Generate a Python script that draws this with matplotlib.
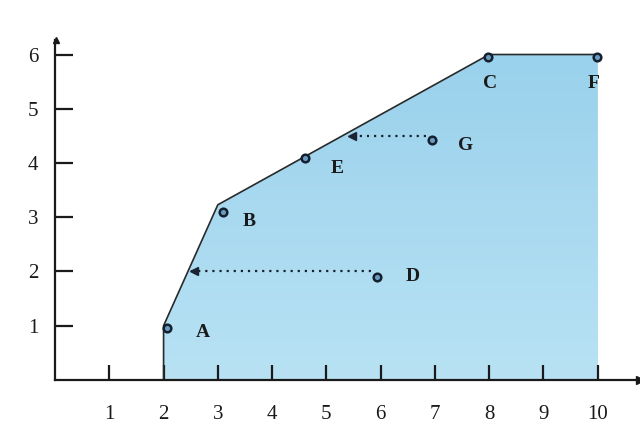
import matplotlib.pyplot as plt
import numpy as np

# boundary of the shaded region
edge_x = [2, 2, 3, 8, 10, 10]
edge_y = [0, 1, 3.23, 6, 6, 0]

# labelled points
names = ["A", "B", "C", "D", "E", "F", "G"]
pt_x = [2.07, 3.1, 7.97, 5.93, 4.6, 9.98, 6.95]
pt_y = [0.95, 3.1, 5.95, 1.9, 4.1, 5.95, 4.42]
lab_x = [2.72, 3.57, 8.02, 6.6, 5.2, 9.92, 7.57]
lab_y = [0.88, 2.92, 5.47, 1.9, 3.9, 5.47, 4.33]

# dotted moves: start -> arrow tip
moves_from = [(5.82, 2.0), (6.83, 4.5)]
moves_to = [(2.5, 2.0), (5.4, 4.5)]

plt.rcParams['font.family'] = ['Liberation Serif', 'DejaVu Serif']

fig = plt.figure(figsize=(6.4, 4.3), dpi=100)
ax = fig.add_axes([0.086, 0.1163, 0.914, 0.791])
ax.set_xlim(0, 10.78)
ax.set_ylim(0, 6.27)

# gradient fill clipped to the polygon
poly = ax.fill(edge_x, edge_y, facecolor="#a3d5ee", edgecolor="none", zorder=1)[0]
grad = np.linspace(0, 1, 100).reshape(-1, 1)
im = ax.imshow(grad, extent=[2, 10, 0, 6], origin="lower", aspect="auto",
               cmap=plt.matplotlib.colors.LinearSegmentedColormap.from_list(
                   "b", ["#b8e2f4", "#9ad1ec"]), zorder=1)
im.set_clip_path(poly)
ax.plot(edge_x[:5], edge_y[:5], color="#2a2a2a", lw=1.2, zorder=2)

for (x0, y0), (x1, y1) in zip(moves_from, moves_to):
    ax.plot([x0, x1], [y0, y1], color="#1a2233", lw=1.6, ls=(0, (1, 2.2)), zorder=3)
    ax.plot([x1 + 0.07], [y1], marker="<", ms=6, color="#1a2233", zorder=3)

ax.scatter(pt_x, pt_y, s=30, facecolor="#6a9cc0", edgecolor="#14202e",
           linewidth=1.8, zorder=4)
for n, x, y in zip(names, lab_x, lab_y):
    ax.text(x, y, n, fontsize=14, fontweight="bold", ha="center", va="center",
            color="#1a1a1a", zorder=5)

for s in ["top", "right"]:
    ax.spines[s].set_visible(False)
for s in ["left", "bottom"]:
    ax.spines[s].set_linewidth(1.6)
    ax.spines[s].set_color("#1a1a1a")

ax.plot([1], [0], marker=">", ms=6, color="#1a1a1a", transform=ax.transAxes, clip_on=False)
ax.plot([0.002], [1], marker="^", ms=5, color="#1a1a1a", transform=ax.transAxes, clip_on=False)

ax.set_xticks(range(1, 11))
ax.set_yticks(range(1, 7))
ax.tick_params(axis="x", direction="in", length=11, width=1.6, pad=18,
               labelsize=15, colors="#1a1a1a")
ax.tick_params(axis="y", direction="in", length=13, width=1.6, pad=12,
               labelsize=15, colors="#1a1a1a")

fig.savefig("out.png", dpi=100)
